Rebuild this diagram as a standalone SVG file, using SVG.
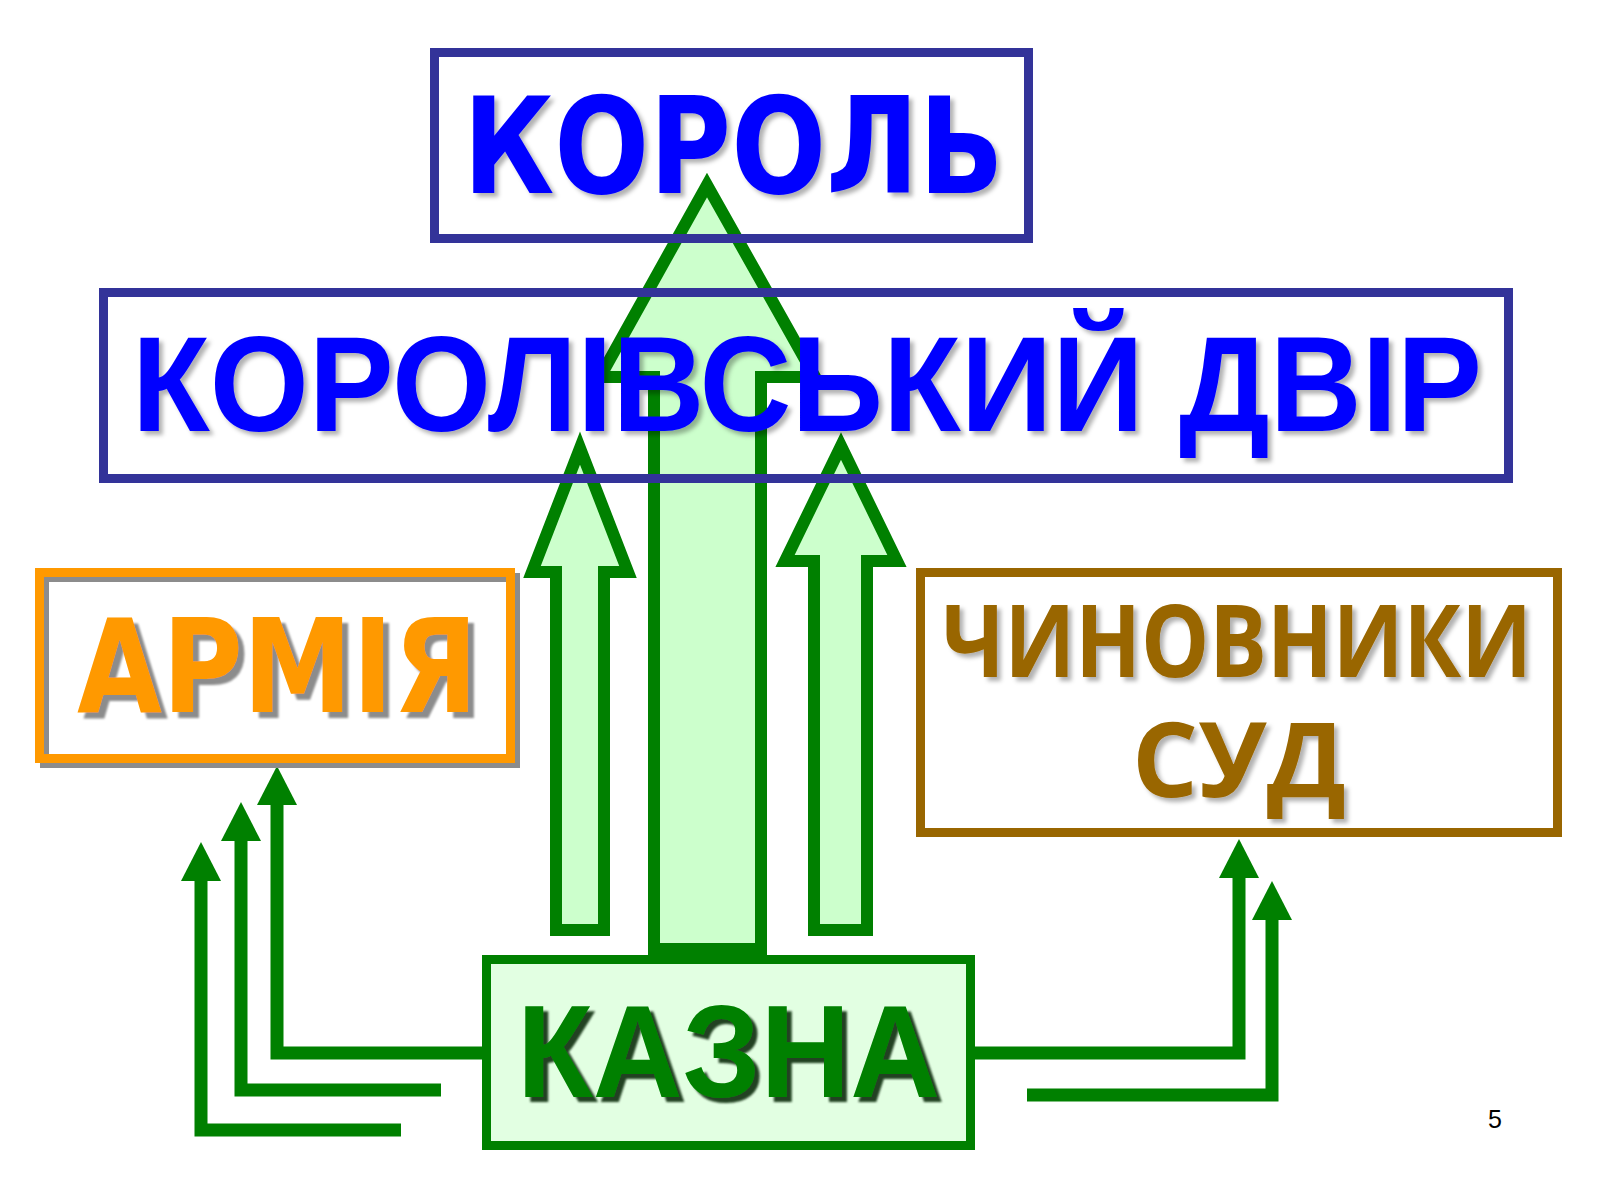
<svg xmlns="http://www.w3.org/2000/svg" width="1600" height="1200" viewBox="0 0 1600 1200">
  <defs>
    <style>
      .box { fill: none; stroke-width: 9; }
      .blue { stroke: #333399; }
      .arrow { fill: #CCFFCC; stroke: #008000; stroke-width: 12; stroke-linejoin: miter; }
      .conn { fill: none; stroke: #008000; stroke-width: 13; stroke-linejoin: miter; stroke-linecap: butt; }
      .t-blue { fill: #0000FF; font-weight: bold; }
      .geo { font-family: "DejaVu Sans", "Noto Sans", sans-serif; }
      .ari { font-family: "Liberation Sans", Arial, sans-serif; }
      .open { font-family: "Open Sans", "DejaVu Sans", sans-serif; }
    </style>
    <filter id="softShadow" x="-5%" y="-10%" width="115%" height="130%">
      <feDropShadow dx="4" dy="4" stdDeviation="2" flood-color="#000000" flood-opacity="0.3"/>
    </filter>
    <filter id="grayShadow" x="-5%" y="-10%" width="115%" height="130%">
      <feDropShadow dx="6" dy="6" stdDeviation="1" flood-color="#8C8C8C" flood-opacity="1"/>
    </filter>
    <filter id="darkShadow" x="-5%" y="-10%" width="115%" height="130%">
      <feDropShadow dx="5" dy="5" stdDeviation="1.2" flood-color="#002200" flood-opacity="0.85"/>
    </filter>
    <marker id="head" markerUnits="userSpaceOnUse" markerWidth="40" markerHeight="40" viewBox="0 0 38 39" refX="1" refY="19.5" orient="auto">
      <path d="M0,0 L38,19.5 L0,39 Z" fill="#008000"/>
    </marker>
  </defs>

  <rect width="1600" height="1200" fill="#FFFFFF"/>

  <g id="connectors">
    <polygon class="arrow" points="654,949 654,377 600,377 707,185 815,377 761,377 761,949"/>
    <polygon class="arrow" points="556,930 556,572 532,572 580,448 628,572 604,572 604,930"/>
    <polygon class="arrow" points="814,930 814,561 785,561 841,446 897,561 867,561 867,930"/>
    <path class="conn" d="M482,1053 H277 V804" marker-end="url(#head)"/>
    <path class="conn" d="M441,1090 H241 V840" marker-end="url(#head)"/>
    <path class="conn" d="M401,1130 H201 V880" marker-end="url(#head)"/>
    <path class="conn" d="M975,1053 H1239 V877" marker-end="url(#head)"/>
    <path class="conn" d="M1027,1095 H1272 V919" marker-end="url(#head)"/>
  </g>

  <g id="node-korol">
    <rect class="box blue" x="434.5" y="52.5" width="594" height="186"/>
    <text class="t-blue geo" x="463" y="193" font-size="134" textLength="541" lengthAdjust="spacingAndGlyphs" filter="url(#softShadow)">КОРОЛЬ</text>
  </g>

  <g id="node-dvir">
    <rect class="box blue" x="103.5" y="292.5" width="1405" height="186"/>
    <text class="t-blue ari" x="132" y="431" font-size="136" textLength="1350" lengthAdjust="spacingAndGlyphs" filter="url(#softShadow)">КОРОЛІВСЬКИЙ ДВІР</text>
  </g>

  <g id="node-armiya">
    <rect x="44.5" y="577.5" width="471" height="186" fill="none" stroke="#8C8C8C" stroke-width="9"/>
    <rect class="box" x="39.5" y="572.5" width="471" height="186" stroke="#FF9900"/>
    <text class="geo" x="77" y="712" font-size="130" font-weight="bold" fill="#FF9900" textLength="401" lengthAdjust="spacingAndGlyphs" filter="url(#grayShadow)">АРМІЯ</text>
  </g>

  <g id="node-chynovnyky">
    <rect class="box" x="920.5" y="572.5" width="637" height="260" stroke="#996600"/>
    <text class="open" x="942" y="677" font-size="100" font-weight="bold" fill="#996600" textLength="590" lengthAdjust="spacingAndGlyphs" filter="url(#softShadow)">ЧИНОВНИКИ</text>
    <text class="open" x="1132" y="797" font-size="104" font-weight="bold" fill="#996600" textLength="214" lengthAdjust="spacingAndGlyphs" filter="url(#softShadow)">СУД</text>
  </g>

  <g id="node-kazna">
    <rect x="486.5" y="959.5" width="484" height="186" fill="#E2FFE2" stroke="#008000" stroke-width="9"/>
    <text class="ari" x="517" y="1097" font-size="131" font-weight="bold" fill="#008000" textLength="423" lengthAdjust="spacingAndGlyphs" filter="url(#darkShadow)">КАЗНА</text>
  </g>

  <text x="1488" y="1128" font-family="Liberation Sans, Arial, sans-serif" font-size="25" fill="#000000">5</text>
</svg>
